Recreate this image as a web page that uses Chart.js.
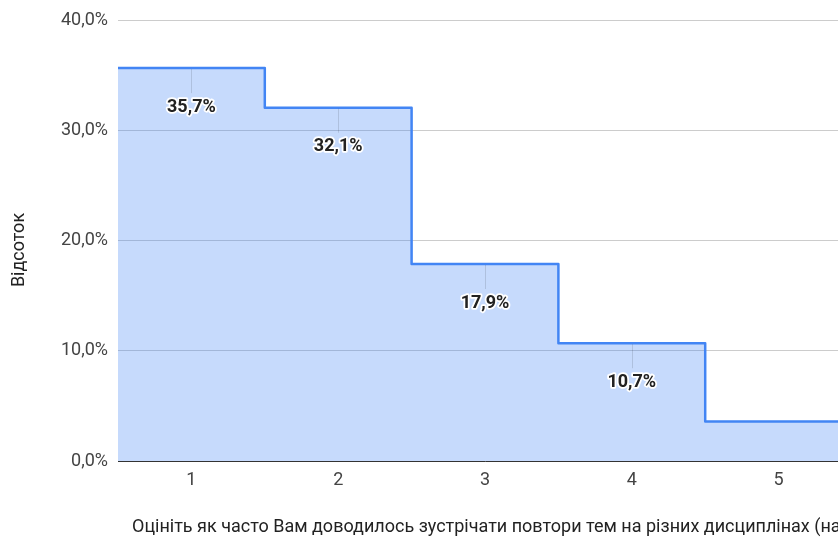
<!DOCTYPE html>
<html>
<head>
<meta charset="utf-8">
<script src="https://cdn.jsdelivr.net/npm/chart.js@4"></script>
<style>
  html, body { margin: 0; padding: 0; overflow: hidden; background: #fff; }
  canvas { display: block; }
</style>
</head>
<body>
<canvas id="grafico" width="870" height="538"></canvas>
<script>
// дані з діаграми
const categorias = ["1", "2", "3", "4", "5"];
const valores = [35.7, 32.1, 17.9, 10.7, 3.6];
const ticksY = [0, 10, 20, 30, 40];
const tituloX = "Оцініть як часто Вам доводилось зустрічати повтори тем на різних дисциплінах (на 5-бальній шкалі)";
const tituloY = "Відсоток";

function formatar(v) {
    return v.toFixed(1).replace(".", ",") + "%";
}

// сходинки розтягнуті до країв області (пів категорії з кожного боку)
const pontos = [{ x: 0.5, y: valores[0] }]
    .concat(valores.map(function (v, i) { return { x: i + 1, y: v }; }))
    .concat([{ x: valores.length + 0.5, y: valores[valores.length - 1] }]);

// риски під точками, підписи значень і назви осей
const rotulos = {
    id: "rotulos",
    afterDatasetsDraw: function (chart) {
        const ctx = chart.ctx;
        const sx = chart.scales.x;
        const sy = chart.scales.y;
        ctx.save();
        valores.forEach(function (v, i) {
            const x = sx.getPixelForValue(i + 1);
            const y = sy.getPixelForValue(v);
            const ty = y + 39;
            if (ty > chart.chartArea.bottom - 14) return;

            ctx.strokeStyle = "rgba(0,0,0,0.12)";
            ctx.lineWidth = 1;
            ctx.beginPath();
            ctx.moveTo(Math.round(x) + 0.5, y + 1);
            ctx.lineTo(Math.round(x) + 0.5, y + 25);
            ctx.stroke();

            ctx.font = "bold 18px Roboto";
            ctx.textAlign = "center";
            ctx.textBaseline = "middle";
            ctx.lineJoin = "round";
            ctx.strokeStyle = "#ffffff";
            ctx.lineWidth = 3.5;
            ctx.strokeText(formatar(v), x, ty);
            ctx.fillStyle = "#222222";
            ctx.fillText(formatar(v), x, ty);
        });

        ctx.font = "18px Roboto";
        ctx.textBaseline = "middle";
        ctx.fillStyle = "#222222";
        ctx.textAlign = "left";
        ctx.fillText(tituloX, chart.chartArea.left + 14, 527);

        ctx.translate(19, 250);
        ctx.rotate(-Math.PI / 2);
        ctx.textAlign = "center";
        ctx.fillText(tituloY, 0, 0);
        ctx.restore();
    }
};

new Chart(document.getElementById("grafico"), {
    type: "line",
    data: {
        datasets: [{
            data: pontos,
            stepped: "middle",
            borderColor: "#4285f4",
            borderWidth: 2.5,
            borderJoinStyle: "round",
            backgroundColor: "rgba(66,133,244,0.3)",
            fill: "origin",
            pointRadius: 0
        }]
    },
    options: {
        responsive: false,
        animation: false,
        layout: { padding: { top: 20, right: 18, left: 0, bottom: 0 } },
        plugins: {
            legend: { display: false },
            tooltip: { enabled: false }
        },
        scales: {
            x: {
                type: "linear",
                min: 0.5,
                max: categorias.length + 0.5,
                afterBuildTicks: function (s) {
                    s.ticks = categorias.map(function (c, i) { return { value: i + 1 }; });
                },
                afterFit: function (s) { s.height = 77; },
                ticks: {
                    callback: function (v) { return categorias[v - 1]; },
                    color: "#444444",
                    font: { family: "Roboto", size: 18 },
                    padding: 9,
                    maxRotation: 0
                },
                grid: { display: false, drawTicks: false },
                border: { color: "#333333", width: 1 }
            },
            y: {
                min: 0,
                max: 40,
                afterBuildTicks: function (s) {
                    s.ticks = ticksY.map(function (v) { return { value: v }; });
                },
                afterFit: function (s) { s.width = 118; },
                ticks: {
                    callback: function (v) { return formatar(v); },
                    color: "#444444",
                    font: { family: "Roboto", size: 18 },
                    padding: 10
                },
                grid: { color: "#cccccc", drawTicks: false },
                border: { display: false }
            }
        }
    },
    plugins: [rotulos]
});
</script>
</body>
</html>
